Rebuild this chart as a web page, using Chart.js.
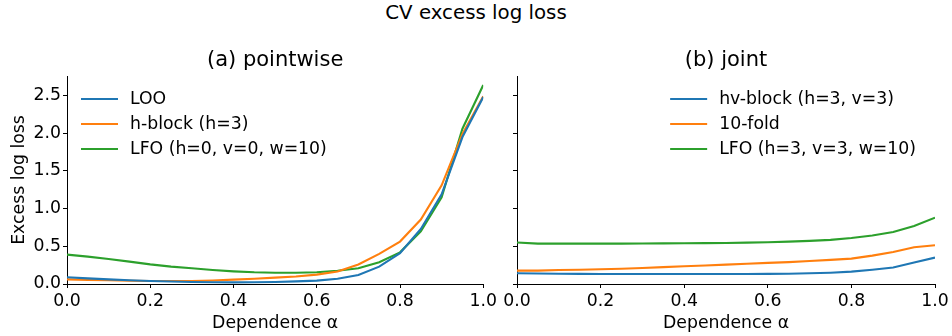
<!DOCTYPE html>
<html>
<head>
<meta charset="utf-8">
<script src="https://cdn.jsdelivr.net/npm/chart.js@4"></script>
<style>
	html, body { margin: 0; padding: 0; background: #fff; }
	#wrap { position: relative; width: 952px; height: 336px; font-family: 'DejaVu Sans', sans-serif; }
	#suptitle { position: absolute; left: 0; top: 0; width: 952px; text-align: center; font-size: 19.8px; line-height: 26px; color: #000; }
	.panel { position: absolute; top: 0; height: 336px; }
	#left { left: 0; width: 500px; }
	#right { left: 500px; width: 452px; }
</style>
</head>
<body>
<div id="wrap">
	<div id="suptitle">CV excess log loss</div>
	<div class="panel" id="left"><canvas id="chartA"></canvas></div>
	<div class="panel" id="right"><canvas id="chartB"></canvas></div>
</div>
<script>
const alpha = [0, 0.05, 0.1, 0.15, 0.2, 0.25, 0.3, 0.35, 0.4, 0.45, 0.5, 0.55, 0.6, 0.65, 0.7, 0.75, 0.8, 0.85, 0.9, 0.95, 1.0];

// (a) pointwise
const looPointwise = [0.089, 0.075, 0.062, 0.05, 0.04, 0.033, 0.027, 0.024, 0.022, 0.024, 0.027, 0.035, 0.045, 0.07, 0.12, 0.23, 0.41, 0.73, 1.19, 1.95, 2.48];
const hblockPointwise = [0.062, 0.055, 0.049, 0.044, 0.04, 0.039, 0.04, 0.047, 0.058, 0.07, 0.084, 0.1, 0.124, 0.165, 0.26, 0.4, 0.563, 0.855, 1.31, 1.99, 2.49];
const lfoPointwise = [0.39, 0.363, 0.332, 0.297, 0.26, 0.23, 0.208, 0.186, 0.168, 0.155, 0.15, 0.15, 0.155, 0.175, 0.21, 0.29, 0.42, 0.70, 1.15, 2.06, 2.64];

// (b) joint
const hvblockJoint = [0.142, 0.139, 0.137, 0.135, 0.133, 0.133, 0.133, 0.133, 0.133, 0.133, 0.133, 0.133, 0.134, 0.137, 0.142, 0.15, 0.164, 0.19, 0.22, 0.284, 0.35];
const tenfoldJoint = [0.177, 0.177, 0.186, 0.19, 0.195, 0.203, 0.213, 0.224, 0.235, 0.246, 0.257, 0.268, 0.28, 0.29, 0.306, 0.32, 0.337, 0.377, 0.425, 0.488, 0.514];
const lfoJoint = [0.55, 0.536, 0.536, 0.536, 0.536, 0.536, 0.537, 0.539, 0.54, 0.543, 0.545, 0.549, 0.554, 0.562, 0.572, 0.585, 0.61, 0.643, 0.69, 0.77, 0.88];

const xTicks = [0, 0.2, 0.4, 0.6, 0.8, 1.0];
const yTicks = [0, 0.5, 1.0, 1.5, 2.0, 2.5];
const yMax = 2.76;

const FONT = "'DejaVu Sans', sans-serif";
const TEXT_SIZE = 17.3;
const BLUE = '#1f77b4', ORANGE = '#ff7f0e', GREEN = '#2ca02c';

function series(label, ys, color) {
	return {
		label: label,
		data: alpha.map((a, i) => ({ x: a, y: ys[i] })),
		borderColor: color,
		backgroundColor: color,
		borderWidth: 2.1,
		pointRadius: 0,
		tension: 0,
		fill: false,
	};
}

// legend drawn inside the plot area, like a matplotlib legend without frame
const insideLegend = {
	id: 'insideLegend',
	afterDatasetsDraw(chart, args, opts) {
		const { ctx, chartArea } = chart;
		const sets = chart.data.datasets;
		ctx.save();
		ctx.font = TEXT_SIZE + 'px ' + FONT;
		ctx.textBaseline = 'middle';
		ctx.textAlign = 'left';
		const maxW = Math.max(...sets.map(d => ctx.measureText(d.label).width));
		let x0 = chartArea.left + 14;
		if (opts.align === 'right') x0 = chartArea.right - 18 - maxW - 50;
		sets.forEach((d, i) => {
			const y = chartArea.top + 23 + i * 25;
			ctx.strokeStyle = d.borderColor;
			ctx.lineWidth = 2.1;
			ctx.beginPath();
			ctx.moveTo(x0, y);
			ctx.lineTo(x0 + 37, y);
			ctx.stroke();
			ctx.fillStyle = '#000';
			ctx.fillText(d.label, x0 + 49, y + 1);
		});
		ctx.restore();
	},
};

function makeChart(id, title, datasets, showY, yWidth, padRight, legendAlign) {
	return new Chart(document.getElementById(id), {
		type: 'line',
		data: { datasets: datasets },
		plugins: [insideLegend],
		options: {
			responsive: true,
			maintainAspectRatio: false,
			animation: false,
			layout: { padding: { left: 0, right: padRight, top: 0, bottom: 0 } },
			plugins: {
				legend: { display: false },
				tooltip: { enabled: false },
				insideLegend: { align: legendAlign },
				title: {
					display: true,
					fullSize: false,
					text: title,
					color: '#000',
					font: { family: FONT, size: 21, weight: 'normal' },
					padding: { top: 48.4, bottom: 2.4 },
				},
			},
			scales: {
				x: {
					type: 'linear',
					min: 0,
					max: 1,
					afterBuildTicks: s => { s.ticks = xTicks.map(v => ({ value: v })); },
					afterFit: s => { s.height = 52; },
					border: { display: true, color: '#000', width: 1 },
					grid: { display: true, drawOnChartArea: false, drawTicks: true, tickLength: 4, color: '#000' },
					ticks: {
						color: '#000',
						padding: 3,
						maxRotation: 0,
						font: { family: FONT, size: TEXT_SIZE },
						callback: v => v.toFixed(1),
					},
					title: {
						display: true,
						text: 'Dependence α',
						color: '#000',
						font: { family: FONT, size: TEXT_SIZE },
						padding: { top: 0, bottom: 2 },
					},
				},
				y: {
					type: 'linear',
					min: 0,
					max: yMax,
					afterBuildTicks: s => { s.ticks = yTicks.map(v => ({ value: v })); },
					afterFit: s => { s.width = yWidth; },
					border: { display: true, color: '#000', width: 1 },
					grid: { display: true, drawOnChartArea: false, drawTicks: true, tickLength: 4, color: '#000' },
					ticks: {
						color: '#000',
						padding: 2,
						font: { family: FONT, size: TEXT_SIZE },
						callback: v => (showY ? v.toFixed(1) : ''),
					},
					title: {
						display: showY,
						text: 'Excess log loss',
						color: '#000',
						font: { family: FONT, size: TEXT_SIZE },
						padding: { top: 9.6, bottom: 0 },
					},
				},
			},
		},
	});
}

makeChart('chartA', '(a) pointwise', [
	series('LOO', looPointwise, BLUE),
	series('h-block (h=3)', hblockPointwise, ORANGE),
	series('LFO (h=0, v=0, w=10)', lfoPointwise, GREEN),
], true, 67, 16, 'left');

makeChart('chartB', '(b) joint', [
	series('hv-block (h=3, v=3)', hvblockJoint, BLUE),
	series('10-fold', tenfoldJoint, ORANGE),
	series('LFO (h=3, v=3, w=10)', lfoJoint, GREEN),
], false, 17, 17, 'right');
</script>
</body>
</html>
